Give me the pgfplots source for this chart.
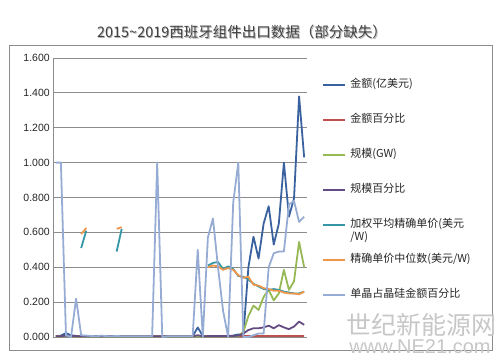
\documentclass[border=0pt]{standalone}
\usepackage{pgfplots}
\usepackage{pgfplotstable}
\pgfplotsset{compat=1.18}
\usepackage{fontspec}
\setmainfont{Liberation Sans}
\newfontfamily\cjk{Noto Sans CJK SC}
\definecolor{c1}{RGB}{58,98,158}
\definecolor{c2}{RGB}{192,80,77}
\definecolor{c3}{RGB}{150,185,85}
\definecolor{c4}{RGB}{100,75,130}
\definecolor{c5}{RGB}{55,150,165}
\definecolor{c6}{RGB}{240,150,75}
\definecolor{c7}{RGB}{150,172,212}
\definecolor{gridc}{RGB}{140,140,140}

\pgfplotstableread{
x  a     b     c     d     e     f     g
0  0.005 0.004 0.003 0.004 nan   nan   1.00
1  0.008 0.005 0.004 0.005 nan   nan   1.00
2  0.022 0.006 0.006 0.008 nan   nan   0.01
3  0.010 0.005 0.004 0.006 nan   nan   0.00
4  0.006 0.004 0.003 0.005 nan   nan   0.22
5  0.004 0.004 0.003 0.004 0.51  0.59  0.01
6  0.004 0.004 0.003 0.004 0.61  0.625 0.008
7  0.005 0.004 0.003 0.004 nan   nan   0.006
8  0.003 0.004 0.003 0.004 nan   nan   0.004
9  0.004 0.004 0.003 0.004 nan   nan   0.008
10 0.004 0.004 0.003 0.004 nan   nan   0.005
11 0.004 0.004 0.003 0.004 nan   nan   0.004
12 0.005 0.004 0.003 0.004 0.49  0.62  0.006
13 0.004 0.004 0.003 0.004 0.62  0.63  0.004
14 0.004 0.004 0.003 0.004 nan   nan   0.004
15 0.004 0.004 0.003 0.004 nan   nan   0.004
16 0.004 0.004 0.003 0.004 nan   nan   0.004
17 0.004 0.004 0.003 0.004 nan   nan   0.004
18 0.004 0.004 0.003 0.004 nan   nan   0.004
19 0.004 0.004 0.003 0.004 nan   nan   0.004
20 0.004 0.004 0.003 0.004 nan   nan   1.00
21 0.004 0.004 0.003 0.004 nan   nan   0.00
22 0.005 0.004 0.003 0.004 nan   nan   0.004
23 0.004 0.004 0.003 0.004 nan   nan   0.004
24 0.004 0.004 0.003 0.004 nan   nan   0.004
25 0.004 0.004 0.003 0.004 nan   nan   0.004
26 0.004 0.004 0.003 0.004 nan   nan   0.004
27 0.004 0.004 0.003 0.004 nan   nan   0.004
28 0.055 0.006 0.003 0.010 nan   nan   0.50
29 0.006 0.004 0.003 0.004 nan   nan   0.00
30 0.006 0.004 0.003 0.005 0.41  0.40  0.57
31 0.006 0.004 0.003 0.005 0.425 0.41  0.68
32 0.006 0.004 0.003 0.005 0.43  0.405 0.40
33 0.006 0.004 0.003 0.005 0.39  0.385 0.15
34 0.006 0.004 0.003 0.005 0.405 0.395 0.00
35 0.008 0.004 0.003 0.006 0.39  0.385 0.77
36 0.015 0.005 0.005 0.008 0.35  0.355 1.00
37 0.010 0.005 0.030 0.020 0.345 0.34  0.00
38 0.400 0.006 0.120 0.040 0.33  0.345 0.00
39 0.575 0.006 0.180 0.050 0.305 0.300 0.01
40 0.450 0.006 0.155 0.050 0.290 0.295 0.02
41 0.650 0.006 0.230 0.055 0.275 0.280 0.02
42 0.750 0.006 0.270 0.065 0.270 0.275 0.40
43 0.530 0.006 0.210 0.050 0.275 0.265 0.48
44 0.650 0.006 0.250 0.068 0.270 0.265 0.49
45 1.000 0.006 0.385 0.055 0.260 0.255 0.49
46 0.690 0.006 0.270 0.045 0.255 0.250 0.76
47 0.795 0.006 0.320 0.060 0.250 0.250 0.78
48 1.380 0.006 0.545 0.088 0.250 0.245 0.66
49 1.030 0.006 0.400 0.070 0.260 0.260 0.69
}\data

\begin{document}
\begin{tikzpicture}
\begin{axis}[
  name=ax, at={(0pt,0pt)}, anchor=south west,
  scale only axis, width=253.4pt, height=279pt,
  xmin=-0.5, xmax=49.5, ymin=0, ymax=1.6,
  xtick=\empty,
  ytick={0,0.2,0.4,0.6,0.8,1.0,1.2,1.4,1.6},
  ymajorgrids, grid style={gridc, line width=0.9pt},
  axis x line*=bottom, axis y line*=left,
  axis line style={gridc, line width=0.9pt, -},
  major tick length=0pt,
  yticklabel style={font=\fontsize{10.5}{12}\selectfont, text=black!85,
    /pgf/number format/.cd, fixed, fixed zerofill, precision=3, assume math mode=true},
  unbounded coords=jump,
  every axis plot/.append style={line width=1.8pt, mark=none, line join=round},
  legend style={draw=none, fill=none, at={(1.06,0.926)}, anchor=north west,
    inner sep=0pt, row sep=22pt, column sep=3pt,
    nodes={inner sep=1pt, text height=8pt, text depth=3pt,
      font=\cjk\fontsize{11}{13}\selectfont, text=black!85}},
  legend cell align=left,
  legend image code/.code={\draw[#1] (0pt,0pt) -- (22pt,0pt);},
  legend image post style={line width=2.2pt},
]
\addplot[c1] table[x=x,y=a]{\data};
\addlegendentry{金额(亿美元)}
\addplot[c2] table[x=x,y=b]{\data};
\addlegendentry{金额百分比}
\addplot[c3] table[x=x,y=c]{\data};
\addlegendentry{规模(GW)}
\addplot[c4] table[x=x,y=d]{\data};
\addlegendentry{规模百分比}
\addplot[c5] table[x=x,y=e]{\data};
\addlegendentry{\begin{tabular}[t]{@{}l@{}}加权平均精确单价(美元\\/W)\end{tabular}}
\addplot[c6] table[x=x,y=f]{\data};
\addlegendentry{精确单价中位数(美元/W)}
\addplot[c7] table[x=x,y=g]{\data};
\addlegendentry{单晶占晶硅金额百分比}
\end{axis}
\pgfresetboundingbox
\path (-53.3pt,-24pt) rectangle (446.7pt,337pt);
\draw[gridc, line width=0.9pt] (-44.3pt,-13pt) rectangle (438.7pt,292pt);
\node[text=black!30, font=\cjk\fontsize{14.5}{16}\selectfont] at (189.5pt,304.2pt) {2015\textasciitilde 2019西班牙组件出口数据（部分缺失）};
\node[text=black!75, font=\cjk\fontsize{14.5}{16}\selectfont] at (188.7pt,305pt) {2015\textasciitilde 2019西班牙组件出口数据（部分缺失）};
\node[text=black!22, font=\cjk\fontsize{25}{27}\selectfont] at (367.7pt,12pt) {世纪新能源网};
\node[text=black!22, font=\fontsize{20}{22}\selectfont] at (366.7pt,-10pt) {www.NE21.com};
\end{tikzpicture}
\end{document}
